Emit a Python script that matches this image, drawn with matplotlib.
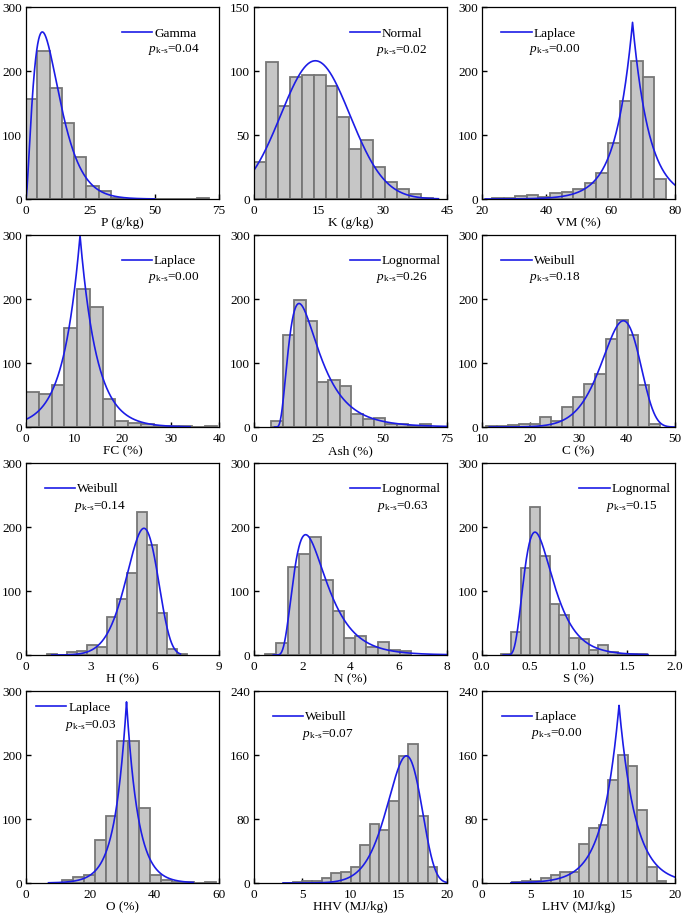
import math
import numpy as np
import matplotlib
matplotlib.use("Agg")
import matplotlib.pyplot as plt
from matplotlib.lines import Line2D

# ---------------- data ----------------
labels = ['P (g/kg)', 'K (g/kg)', 'VM (%)', 'FC (%)', 'Ash (%)', 'C (%)',
          'H (%)', 'N (%)', 'S (%)', 'O (%)', 'HHV (MJ/kg)', 'LHV (MJ/kg)']
dist_names = ['Gamma', 'Normal', 'Laplace', 'Laplace', 'Lognormal', 'Weibull',
              'Weibull', 'Lognormal', 'Lognormal', 'Laplace', 'Weibull', 'Laplace']
p_ks = ['0.04', '0.02', '0.00', '0.00', '0.26', '0.18',
        '0.14', '0.63', '0.15', '0.03', '0.07', '0.00']

# histogram bins: first edge and bin width per panel
bin_start = [-0.4, 0.0, 23.1, 0.0, 6.7, 10.83, 0.98, 0.46, 0.2, 11.09, 3.0, 3.1]
bin_width = [4.77, 2.78, 3.607, 2.645, 4.44, 2.257, 0.466, 0.466, 0.1005, 3.42, 1.0, 1.0]

P_counts = [157, 232, 174, 119, 66, 20, 13, 1, 0, 0, 0, 0, 0, 0, 2]
K_counts = [29, 107, 73, 95, 97, 97, 88, 64, 39, 46, 25, 13, 8, 4, 1]
VM_counts = [2, 1, 4, 6, 3, 10, 11, 16, 25, 40, 87, 153, 215, 191, 32]
FC_counts = [54, 51, 66, 155, 215, 187, 43, 10, 6, 4, 2, 1, 1, 0, 2]
Ash_counts = [10, 143, 199, 166, 70, 73, 64, 21, 12, 14, 4, 5, 2, 4]
C_counts = [1, 2, 3, 4, 5, 16, 10, 32, 47, 67, 83, 137, 167, 143, 65, 4]
H_counts = [1, 0, 5, 6, 16, 13, 60, 87, 128, 223, 172, 66, 9, 2]
N_counts = [1, 18, 138, 158, 184, 117, 69, 26, 30, 13, 21, 8, 7]
S_counts = [2, 36, 136, 231, 154, 80, 62, 27, 25, 8, 16, 4, 2, 1, 1]
O_counts = [4, 9, 12, 67, 105, 222, 222, 117, 12, 5, 1, 1, 0, 2]
HHV_counts = [0, 1, 2, 2, 6, 12, 14, 20, 47, 74, 66, 103, 159, 174, 84, 20]
LHV_counts = [1, 2, 3, 6, 10, 14, 14, 49, 69, 73, 129, 160, 146, 91, 20, 3]
counts = [P_counts, K_counts, VM_counts, FC_counts, Ash_counts, C_counts,
          H_counts, N_counts, S_counts, O_counts, HHV_counts, LHV_counts]

# fitted distribution shape parameters (estimated from the drawn curves)
# Gamma: (shape k, scale theta); Normal: (mu, sd); Laplace: (mu, b)
# Lognormal: (shift, sigma, mode); Weibull: (shape k, mode)
fit_params = [(2.5, 4.23), (14.3, 8.08), (66.8, 5.2), (11.2, 3.47),
              (8.0, 0.6, 17.5), (10.5, 39.3), (8.0, 5.5), (0.8, 0.5, 2.14),
              (0.22, 0.45, 0.549), (31.25, 3.6), (9.5, 15.8), (14.2, 1.7)]
fit_peak = [261, 108, 276, 299, 193, 166, 198, 188, 192, 283, 159, 222]
curve_lo = [0.05, 0.0, 21.0, 0.0, 8.0, 11.5, 1.2, 0.8, 0.22, 7.0, 3.0, 3.0]
curve_hi = [50.0, 43.0, 80.0, 34.0, 75.0, 50.0, 7.2, 8.0, 1.72, 52.0, 20.0, 20.0]

x_ticks = [[0, 25, 50, 75], [0, 15, 30, 45], [20, 40, 60, 80], [0, 10, 20, 30, 40],
           [0, 25, 50, 75], [10, 20, 30, 40, 50], [0, 3, 6, 9], [0, 2, 4, 6, 8],
           [0.0, 0.5, 1.0, 1.5, 2.0], [0, 20, 40, 60], [0, 5, 10, 15, 20], [0, 5, 10, 15, 20]]
x_ticklabels = [None] * 8 + [['0.0', '0.5', '1.0', '1.5', '2.0']] + [None] * 3
y_ticks = [[0, 100, 200, 300], [0, 50, 100, 150]] + [[0, 100, 200, 300]] * 8 + \
          [[0, 80, 160, 240], [0, 80, 160, 240]]

# legend anchor (axes fraction): line start x, legend y, p-text x, p-text y
leg_pos = [(0.496, 0.861, 0.634, 0.778), (0.496, 0.861, 0.634, 0.775),
           (0.100, 0.861, 0.243, 0.778), (0.496, 0.864, 0.634, 0.780),
           (0.496, 0.864, 0.634, 0.780), (0.100, 0.864, 0.246, 0.780),
           (0.098, 0.864, 0.249, 0.776), (0.496, 0.864, 0.637, 0.776),
           (0.504, 0.864, 0.642, 0.776), (0.052, 0.913, 0.203, 0.821),
           (0.099, 0.864, 0.250, 0.774), (0.104, 0.864, 0.255, 0.780)]

# ---------------- style ----------------
plt.rcParams['font.family'] = ['Liberation Serif', 'DejaVu Serif']
plt.rcParams['mathtext.fontset'] = 'custom'
plt.rcParams['mathtext.rm'] = 'Liberation Serif'
plt.rcParams['mathtext.it'] = 'Liberation Serif:italic'
plt.rcParams['mathtext.bf'] = 'Liberation Serif:bold'

BAR_FACE = '#c6c6c6'
BAR_EDGE = '#767676'
LINE_COLOR = '#1c1ce6'
FS = 9.5


def raw_pdf(dist, p, x):
    x = np.asarray(x, dtype=float)
    if dist == 'Gamma':
        k, th = p
        xx = np.clip(x, 1e-12, None)
        return xx ** (k - 1) * np.exp(-xx / th)
    if dist == 'Normal':
        mu, sd = p
        return np.exp(-(x - mu) ** 2 / (2 * sd ** 2))
    if dist == 'Laplace':
        mu, b = p
        return np.exp(-np.abs(x - mu) / b)
    if dist == 'Lognormal':
        sh, s, mode = p
        mu = math.log(mode - sh) + s ** 2
        xp = np.clip(x - sh, 1e-12, None)
        out = np.exp(-(np.log(xp) - mu) ** 2 / (2 * s ** 2)) / xp
        return np.where(x - sh > 0, out, 0.0)
    if dist == 'Weibull':
        k, mode = p
        lam = mode / ((k - 1) / k) ** (1 / k)
        xx = np.clip(x, 1e-12, None)
        return xx ** (k - 1) * np.exp(-(xx / lam) ** k)
    raise ValueError(dist)


def mode_of(dist, p):
    if dist == 'Gamma':
        return (p[0] - 1) * p[1]
    if dist in ('Normal', 'Laplace'):
        return p[0]
    if dist == 'Lognormal':
        return p[2]
    if dist == 'Weibull':
        return p[1]


W, H = 685, 913
fig = plt.figure(figsize=(W / 100, H / 100), dpi=100)
col_left = [26, 254, 482]
row_top = [7, 235, 463, 691]
ax_w, ax_h = 193, 192

for i in range(12):
    r, c = divmod(i, 3)
    ax = fig.add_axes([col_left[c] / W, (H - row_top[r] - ax_h) / H, ax_w / W, ax_h / H])
    cnt = np.array(counts[i], dtype=float)
    edges = bin_start[i] + bin_width[i] * np.arange(len(cnt))
    ax.bar(edges, cnt, width=bin_width[i], align='edge', color=BAR_FACE,
           edgecolor=BAR_EDGE, linewidth=1.3, zorder=2)

    dist = dist_names[i]
    md = mode_of(dist, fit_params[i])
    xs = np.linspace(curve_lo[i], curve_hi[i], 800)
    xs = np.sort(np.append(xs, md))
    ys = raw_pdf(dist, fit_params[i], xs) / raw_pdf(dist, fit_params[i], [md])[0] * fit_peak[i]
    ax.plot(xs, ys, color=LINE_COLOR, linewidth=1.2, zorder=3)

    ax.set_xlim(x_ticks[i][0], x_ticks[i][-1])
    ax.set_ylim(y_ticks[i][0], y_ticks[i][-1])
    ax.set_xticks(x_ticks[i])
    if x_ticklabels[i] is not None:
        ax.set_xticklabels(x_ticklabels[i])
    ax.set_yticks(y_ticks[i])
    ax.tick_params(direction='in', length=3.5, width=1.0, labelsize=FS,
                   top=False, right=False, colors='black')
    ax.tick_params(axis='x', pad=4.5)
    ax.tick_params(axis='y', pad=3)
    for sp in ax.spines.values():
        sp.set_linewidth(0.9)
        sp.set_color('black')
        sp.set_zorder(4)
    ax.set_xlabel(labels[i], fontsize=FS, labelpad=0)

    lx, ly, px, py = leg_pos[i]
    handle = Line2D([], [], color=LINE_COLOR, linewidth=1.2)
    ax.legend([handle], [dist], loc='center left', bbox_to_anchor=(lx, ly),
              frameon=False, fontsize=FS, handlelength=2.3, handletextpad=0.15,
              borderpad=0, borderaxespad=0)
    ax.text(px, py, r'$p_{\mathrm{k}\text{-}\mathrm{s}}$=' + p_ks[i], transform=ax.transAxes,
            fontsize=FS, ha='left', va='center')

fig.savefig('out.png', dpi=100, facecolor='white')
